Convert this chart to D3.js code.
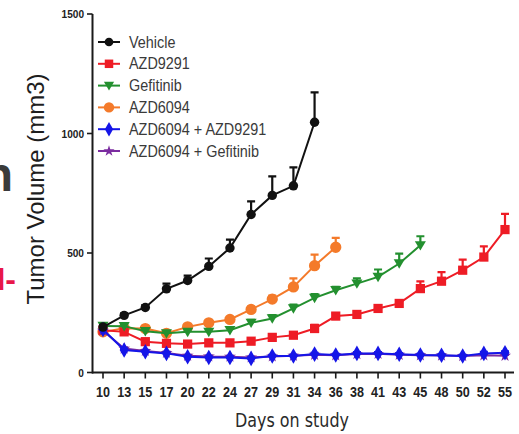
<!DOCTYPE html>
<html>
<head>
<meta charset="utf-8">
<script src="https://cdn.jsdelivr.net/npm/d3@7/dist/d3.min.js"></script>
<style>
  html, body { margin: 0; padding: 0; background: #fff; }
  svg { display: block; }
</style>
</head>
<body>
<svg id="chart" width="519" height="434"></svg>
<script>
// Study days (categorical x axis)
const days = [10, 13, 15, 17, 20, 22, 24, 27, 29, 31, 34, 36, 38, 41, 43, 45, 48, 50, 52, 55];
const yTicks = [0, 500, 1000, 1500];

// Mean tumour volume (mm3) and SEM for each treatment group
const vehicle      = [190, 239, 272, 350, 385, 444, 521, 661, 741, 781, 1047];
const vehicleErr   = [8, 9, 10, 22, 20, 33, 35, 55, 80, 77, 125];
const azd9291      = [177, 170, 129, 122, 119, 124, 124, 131, 147, 156, 184, 236, 243, 268, 289, 351, 382, 428, 483, 598];
const azd9291Err   = [6, 6, 8, 8, 8, 8, 8, 10, 12, 12, 15, 12, 12, 14, 14, 30, 38, 44, 45, 66];
const gefitinib    = [195, 194, 173, 164, 170, 170, 177, 208, 226, 268, 312, 344, 372, 400, 456, 532];
const gefitinibErr = [6, 8, 8, 8, 10, 10, 10, 12, 14, 16, 16, 14, 22, 31, 41, 38];
const azd6094      = [170, 185, 184, 164, 191, 208, 222, 264, 307, 358, 447, 524];
const azd6094Err   = [6, 6, 6, 6, 8, 8, 10, 12, 15, 36, 46, 39];
const combo9291    = [180, 94, 87, 80, 66, 63, 63, 59, 69, 69, 77, 73, 80, 80, 76, 73, 72, 69, 80, 83];
const combo9291Err = [5, 6, 5, 5, 4, 4, 4, 4, 5, 5, 5, 5, 5, 5, 5, 5, 5, 5, 6, 6];
const comboGef     = [175, 100, 90, 82, 70, 67, 66, 63, 67, 70, 74, 72, 77, 78, 74, 72, 71, 69, 72, 70];
const comboGefErr  = [5, 5, 5, 5, 4, 4, 4, 4, 4, 4, 4, 4, 4, 4, 4, 4, 4, 4, 4, 4];

const groupNames  = ["Vehicle", "AZD9291", "Gefitinib", "AZD6094", "AZD6094 + AZD9291", "AZD6094 + Gefitinib"];
const groupColors = ["#111111", "#ee1c25", "#23902f", "#f47a2a", "#1515e8", "#7b2ca0"];

const groups = [
  { name: groupNames[0], color: groupColors[0], values: vehicle,   errs: vehicleErr,   symbol: d3.symbolCircle,   size: 70 },
  { name: groupNames[1], color: groupColors[1], values: azd9291,   errs: azd9291Err,   symbol: d3.symbolSquare,   size: 85 },
  { name: groupNames[2], color: groupColors[2], values: gefitinib, errs: gefitinibErr, symbol: "triDown",         size: 80 },
  { name: groupNames[3], color: groupColors[3], values: azd6094,   errs: azd6094Err,   symbol: d3.symbolCircle,   size: 100 },
  { name: groupNames[4], color: groupColors[4], values: combo9291, errs: combo9291Err, symbol: d3.symbolDiamond,  size: 70 },
  { name: groupNames[5], color: groupColors[5], values: comboGef,  errs: comboGefErr,  symbol: d3.symbolStar,     size: 45 }
];

// Draw order: back to front
const drawOrder = [3, 1, 2, 5, 4, 0];

const svg = d3.select("#chart");
const x = d3.scalePoint().domain(days).range([103, 505]);
const y = d3.scaleLinear().domain([0, 1500]).range([372.5, 14]);

// Horizontally condensed text helper
function squeezedText(parent, tx, ty, str, opts) {
  const g = parent.append("g").attr("transform", `translate(${tx},${ty})`);
  const t = g.append("text")
    .attr("transform", `scale(${opts.sx || 1},1)`)
    .attr("text-anchor", opts.anchor || "start")
    .attr("font-family", opts.family || "'Liberation Sans', Arial, sans-serif")
    .attr("font-size", opts.size)
    .attr("font-weight", opts.weight || "normal")
    .attr("fill", opts.color || "#222")
    .text(str);
  return t;
}

function symbolPath(sym, size) {
  if (sym === "triDown") {
    const s = Math.sqrt(size) * 0.62;
    return `M${-s},${-s * 0.75}L${s},${-s * 0.75}L0,${s * 0.95}Z`;
  }
  return d3.symbol().type(sym).size(size)();
}

// Axes
const axisColor = "#1a1a1a";
svg.append("line")
  .attr("x1", 92.5).attr("x2", 92.5)
  .attr("y1", y(1500)).attr("y2", y(0) + 1)
  .attr("stroke", axisColor).attr("stroke-width", 2);
svg.append("line")
  .attr("x1", 92).attr("x2", 514)
  .attr("y1", y(0)).attr("y2", y(0))
  .attr("stroke", axisColor).attr("stroke-width", 2);

yTicks.forEach(v => {
  svg.append("line")
    .attr("x1", 87).attr("x2", 92.5)
    .attr("y1", y(v)).attr("y2", y(v))
    .attr("stroke", axisColor).attr("stroke-width", 1.6);
  squeezedText(svg, 84, y(v) + 4, String(v), { size: 11, weight: "bold", anchor: "end", sx: 0.92, color: "#222" });
});

days.forEach(d => {
  svg.append("line")
    .attr("x1", x(d)).attr("x2", x(d))
    .attr("y1", y(0)).attr("y2", y(0) + 6)
    .attr("stroke", axisColor).attr("stroke-width", 1.6);
  squeezedText(svg, x(d), 396.5, String(d), { size: 15, weight: "bold", anchor: "middle", sx: 0.84, color: "#222" });
});

// Axis titles
const yTitle = svg.append("g").attr("transform", "translate(44,189) rotate(-90)");
yTitle.append("text")
  .attr("text-anchor", "middle")
  .attr("font-family", "'Liberation Sans', Arial, sans-serif")
  .attr("font-size", 24)
  .attr("fill", "#1e1e1e")
  .text("Tumor Volume (mm3)");

squeezedText(svg, 292, 427, "Days on study", { size: 19, anchor: "middle", sx: 0.84, color: "#2a2a2a", family: "'DejaVu Sans', sans-serif" });

// Series
drawOrder.forEach(i => {
  const g = groups[i];
  const pts = g.values.map((v, k) => ({ day: days[k], v, e: g.errs[k] }));
  const layer = svg.append("g");

  // error bars (upper only)
  layer.selectAll(".err").data(pts).enter().append("path")
    .attr("d", p => `M${x(p.day)},${y(p.v)}V${y(p.v + p.e)}M${x(p.day) - 4},${y(p.v + p.e)}H${x(p.day) + 4}`)
    .attr("fill", "none")
    .attr("stroke", g.color)
    .attr("stroke-width", 2.2);

  layer.append("path")
    .datum(pts)
    .attr("d", d3.line().x(p => x(p.day)).y(p => y(p.v)))
    .attr("fill", "none")
    .attr("stroke", g.color)
    .attr("stroke-width", 2);

  layer.selectAll(".mk").data(pts).enter().append("path")
    .attr("transform", p => `translate(${x(p.day)},${y(p.v)})`)
    .attr("d", symbolPath(g.symbol, g.size))
    .attr("fill", g.color);
});

// Legend
groups.forEach((g, row) => {
  const cy = 42 + row * 21.8;
  svg.append("line")
    .attr("x1", 98).attr("x2", 120)
    .attr("y1", cy).attr("y2", cy)
    .attr("stroke", g.color).attr("stroke-width", 2);
  svg.append("path")
    .attr("transform", `translate(109,${cy})`)
    .attr("d", symbolPath(g.symbol, g.size * 0.85))
    .attr("fill", g.color);
  squeezedText(svg, 129, cy + 5.5, g.name, { size: 16, sx: 0.9, color: "#3a3a3a" });
});

// Fragments of neighbouring panel labels at the left edge
svg.append("text")
  .attr("x", 13).attr("y", 191)
  .attr("text-anchor", "end")
  .attr("font-family", "'Liberation Sans', Arial, sans-serif")
  .attr("font-weight", "bold")
  .attr("font-size", 48)
  .attr("fill", "#3a3a3a")
  .text("n");
svg.append("text")
  .attr("x", 16).attr("y", 290)
  .attr("text-anchor", "end")
  .attr("font-family", "'Liberation Sans', Arial, sans-serif")
  .attr("font-weight", "bold")
  .attr("font-size", 32)
  .attr("fill", "#e8174a")
  .text("I-");
</script>
</body>
</html>
